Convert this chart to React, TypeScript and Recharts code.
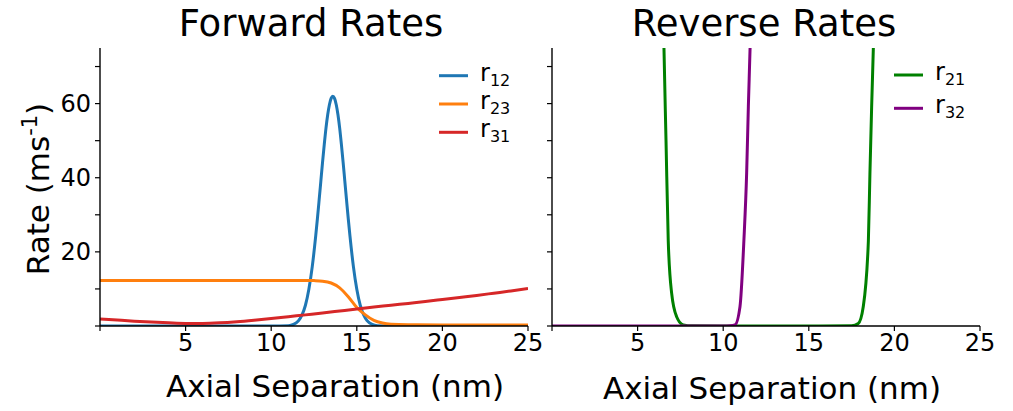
import React from "react";
import { LineChart, Line, XAxis, YAxis } from "recharts";

// forward rates
const r12Sep = [0, 5, 10, 11, 11.3, 11.6, 11.8, 12.0, 12.2, 12.4, 12.6, 12.7, 12.8, 12.9, 13.0, 13.1, 13.2, 13.3, 13.4, 13.5, 13.6, 13.7, 13.8, 13.9, 14.0, 14.1, 14.2, 14.3, 14.4, 14.5, 14.6, 14.8, 15.0, 15.2, 15.4, 15.6, 15.9, 16.2, 17, 20, 25];
const r12Rate = [0, 0, 0, 0.1, 0.43, 1.46, 3.0, 5.6, 9.9, 16.1, 24.3, 29.0, 34.0, 39.1, 44.2, 49.0, 53.4, 57.0, 59.7, 61.4, 62, 61.4, 59.7, 57.0, 53.4, 49.0, 44.2, 39.1, 34.0, 29.0, 24.3, 16.1, 9.9, 5.6, 3.0, 1.46, 0.43, 0.1, 0, 0, 0];

const r23Sep = [0, 5, 10, 12, 12.5, 13, 13.5, 14, 14.5, 15, 15.5, 16, 16.5, 17, 18, 20, 25];
const r23Rate = [12.3, 12.3, 12.3, 12.3, 12.25, 12.1, 11.6, 10.3, 7.9, 5.0, 3.0, 1.5, 0.8, 0.5, 0.35, 0.3, 0.3];

const r31Sep = [0, 1, 2, 3, 4, 5, 6, 7, 8, 9, 10, 11, 12, 13, 14, 15, 16, 17, 18, 19, 20, 21, 22, 23, 24, 25];
const r31Rate = [1.9, 1.6, 1.3, 1.05, 0.85, 0.7, 0.7, 0.85, 1.15, 1.55, 2.0, 2.5, 3.0, 3.5, 4.05, 4.6, 5.1, 5.6, 6.1, 6.6, 7.15, 7.7, 8.25, 8.85, 9.45, 10.1];

// reverse rates, both run off the top of the panel
const r21Sep = [0, 6.3, 6.45, 6.54, 6.66, 6.79, 6.99, 7.28, 7.67, 8.2, 10, 15, 17.5, 17.89, 18.18, 18.48, 18.57, 18.67, 18.77, 18.9, 25];
const r21Rate = [5000, 140, 100, 75, 50, 23, 8.8, 2.5, 0.3, 0.05, 0, 0, 0.1, 0.7, 5.2, 23, 41, 59, 75, 100, 5000];

const r32Sep = [0, 5, 10, 10.4, 10.69, 10.98, 11.21, 11.37, 11.47, 11.57, 11.7, 25];
const r32Rate = [0, 0, 0, 0.05, 0.3, 5.2, 23.2, 41.3, 59.3, 75, 100, 5000];

const xTicks = [0, 5, 10, 15, 20, 25];
const yTicks = [0, 10, 20, 30, 40, 50, 60, 70];
const yLabelled = [20, 40, 60];

const toRows = (xs: number[], ys: number[]) => xs.map((x, i) => ({ x, y: ys[i] }));

const FONT = "DejaVu Sans";
const tickStyle = { fill: "#000", fontSize: 24, fontFamily: FONT };

function Panel({
  width,
  margin,
  showYLabels,
  series,
}: {
  width: number;
  margin: { top: number; right: number; bottom: number; left: number };
  showYLabels: boolean;
  series: { rows: { x: number; y: number }[]; color: string; name: string }[];
}) {
  return (
    <LineChart width={width} height={411} margin={margin}>
      <XAxis
        dataKey="x"
        type="number"
        domain={[0, 25]}
        ticks={xTicks}
        allowDataOverflow
        interval={0}
        tickFormatter={(v: number) => (v === 0 ? "" : String(v))}
        tick={tickStyle}
        tickSize={5}
        tickMargin={3}
        height={40}
        axisLine={{ stroke: "#000", strokeWidth: 1.4 }}
        tickLine={{ stroke: "#000", strokeWidth: 1.2 }}
      />
      <YAxis
        type="number"
        domain={[0, 75]}
        ticks={yTicks}
        allowDataOverflow
        interval={0}
        tickFormatter={(v: number) => (showYLabels && yLabelled.includes(v) ? String(v) : "")}
        tick={tickStyle}
        tickSize={5}
        tickMargin={4}
        width={showYLabels ? 90 : 10}
        axisLine={{ stroke: "#000", strokeWidth: 1.4 }}
        tickLine={{ stroke: "#000", strokeWidth: 1.2 }}
      />
      {series.map((s) => (
        <Line
          key={s.name}
          data={s.rows}
          dataKey="y"
          type="monotone"
          stroke={s.color}
          strokeWidth={3}
          dot={false}
          activeDot={false}
          isAnimationActive={false}
        />
      ))}
    </LineChart>
  );
}

function Key({ x, y, gap, items }: { x: number; y: number; gap: number; items: { name: string; sub: string; color: string }[] }) {
  return (
    <g>
      {items.map((it, i) => (
        <g key={it.name}>
          <line x1={x} x2={x + 29} y1={y + i * gap} y2={y + i * gap} stroke={it.color} strokeWidth={3} />
          <text x={x + 41} y={y + i * gap + 5} fontSize={24} fontFamily={FONT} fill="#000">
            {it.name}
            <tspan fontSize={16} dy={5}>{it.sub}</tspan>
          </text>
        </g>
      ))}
    </g>
  );
}

export default function App() {
  return (
    <div style={{ position: "absolute", left: 0, top: 0, width: 1013, height: 411, background: "#fff", fontFamily: FONT }}>
      <div style={{ position: "absolute", left: 0, top: 0 }}>
        <Panel
          width={560}
          margin={{ top: 48, right: 32, bottom: 45, left: 10 }}
          showYLabels
          series={[
            { name: "r12", color: "#1f77b4", rows: toRows(r12Sep, r12Rate) },
            { name: "r23", color: "#ff7f0e", rows: toRows(r23Sep, r23Rate) },
            { name: "r31", color: "#d62728", rows: toRows(r31Sep, r31Rate) },
          ]}
        />
      </div>
      <div style={{ position: "absolute", left: 540, top: 0 }}>
        <Panel
          width={473}
          margin={{ top: 48, right: 33, bottom: 45, left: 2 }}
          showYLabels={false}
          series={[
            { name: "r21", color: "#008000", rows: toRows(r21Sep, r21Rate) },
            { name: "r32", color: "#800080", rows: toRows(r32Sep, r32Rate) },
          ]}
        />
      </div>
      <svg width={1013} height={411} style={{ position: "absolute", left: 0, top: 0, pointerEvents: "none" }}>
        <text x={311} y={36} textAnchor="middle" fontSize={37} fontFamily={FONT} fill="#000">Forward Rates</text>
        <text x={764} y={36} textAnchor="middle" fontSize={37} fontFamily={FONT} fill="#000">Reverse Rates</text>
        <text x={335} y={397} textAnchor="middle" fontSize={31} fontFamily={FONT} fill="#000">Axial Separation (nm)</text>
        <text x={772} y={399} textAnchor="middle" fontSize={31} fontFamily={FONT} fill="#000">Axial Separation (nm)</text>
        <text transform="translate(49,189) rotate(-90)" textAnchor="middle" fontSize={31} fontFamily={FONT} fill="#000">
          Rate (ms<tspan fontSize={21} dy={-12}>-1</tspan><tspan dy={12}>)</tspan>
        </text>
        <Key
          x={439}
          y={75.7}
          gap={28.3}
          items={[
            { name: "r", sub: "12", color: "#1f77b4" },
            { name: "r", sub: "23", color: "#ff7f0e" },
            { name: "r", sub: "31", color: "#d62728" },
          ]}
        />
        <Key
          x={894}
          y={75}
          gap={33.3}
          items={[
            { name: "r", sub: "21", color: "#008000" },
            { name: "r", sub: "32", color: "#800080" },
          ]}
        />
      </svg>
    </div>
  );
}
